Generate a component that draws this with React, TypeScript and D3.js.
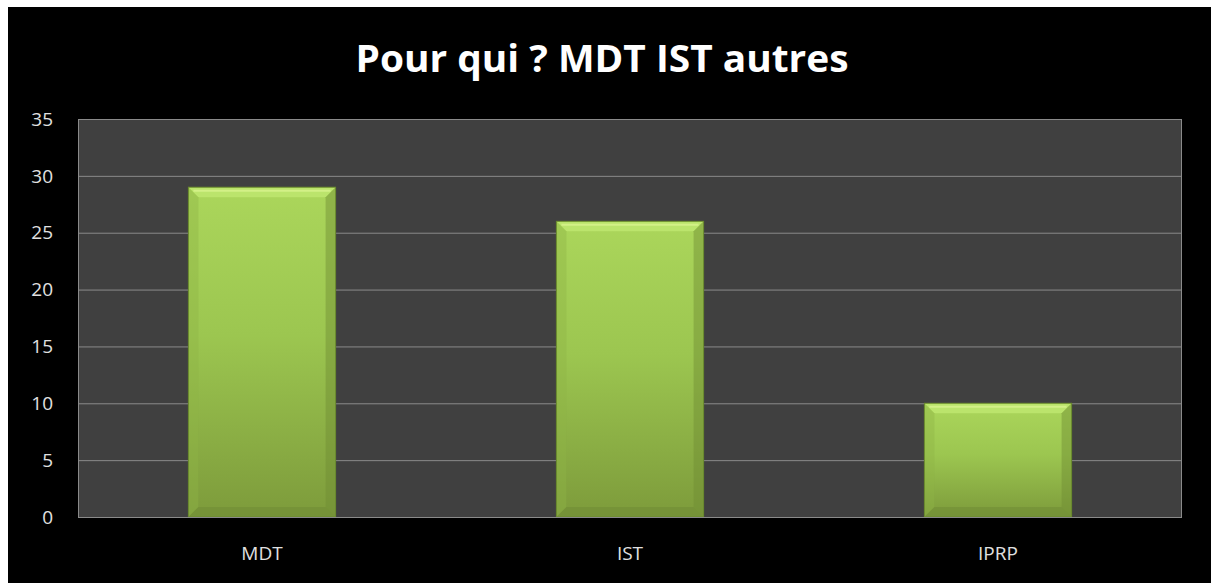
import React, { useEffect, useRef } from "react";
import * as d3 from "d3";

const categories = ["MDT", "IST", "IPRP"];
const values = [29, 26, 10];
const yTicks = [0, 5, 10, 15, 20, 25, 30, 35];
const title = "Pour qui ? MDT IST autres";

const W = 1203;
const H = 576;

const App = () => {
  const ref = useRef<SVGSVGElement>(null);

  useEffect(() => {
    const svg = d3.select(ref.current);
    svg.selectAll("*").remove();

    const margin = { top: 112, right: 29, bottom: 66, left: 70 },
      width = W - margin.left - margin.right,
      height = H - margin.top - margin.bottom;

    const defs = svg.append("defs");
    const grad = defs
      .append("linearGradient")
      .attr("id", "barGrad")
      .attr("x1", 0)
      .attr("y1", 0)
      .attr("x2", 0)
      .attr("y2", 1);
    grad.append("stop").attr("offset", "0%").attr("stop-color", "#abd65b");
    grad.append("stop").attr("offset", "45%").attr("stop-color", "#9cc650");
    grad.append("stop").attr("offset", "100%").attr("stop-color", "#7d9b3b");

    svg.append("rect").attr("width", W + 20).attr("height", H).attr("fill", "#000");

    svg
      .append("text")
      .attr("x", 594)
      .attr("y", 65)
      .attr("text-anchor", "middle")
      .attr("fill", "#fff")
      .attr("font-family", "Open Sans, sans-serif")
      .attr("font-weight", "bold")
      .attr("font-size", 37)
      .attr("textLength", 493)
      .attr("lengthAdjust", "spacingAndGlyphs")
      .text(title);

    const x = d3
      .scaleBand()
      .domain(categories)
      .range([0, width])
      .paddingInner(0.6)
      .paddingOuter(0.3);

    const y = d3.scaleLinear().domain([0, 35]).range([height, 0]);

    const chart = svg
      .append("g")
      .attr("transform", `translate(${margin.left},${margin.top})`);

    chart
      .append("rect")
      .attr("width", width)
      .attr("height", height)
      .attr("fill", "#404040");

    chart
      .append("g")
      .selectAll("line")
      .data(yTicks.filter((t) => t > 0))
      .join("line")
      .attr("x1", 0)
      .attr("x2", width)
      .attr("y1", (d) => y(d) + 0.5)
      .attr("y2", (d) => y(d) + 0.5)
      .attr("stroke", "#8a8a8a")
      .attr("stroke-width", 1);

    // bars with a bevelled edge
    const bev = 10;
    const bars = chart
      .append("g")
      .selectAll("g")
      .data(categories.map((c, i) => ({ c, v: values[i] })))
      .join("g")
      .attr("transform", (d) => `translate(${x(d.c)},${y(d.v)})`);

    const bw = x.bandwidth();
    bars
      .append("rect")
      .attr("width", bw)
      .attr("height", (d) => height - y(d.v))
      .attr("fill", "url(#barGrad)");

    bars
      .append("path")
      .attr("d", `M0,0 L${bw},0 L${bw - bev},${bev} L${bev},${bev} Z`)
      .attr("fill", "#bce56e")
      .attr("opacity", 0.9);
    bars
      .append("line")
      .attr("x1", bev / 2)
      .attr("x2", bw - bev / 2)
      .attr("y1", 3.5)
      .attr("y2", 3.5)
      .attr("stroke", "#d9f48e")
      .attr("stroke-width", 2)
      .attr("opacity", 0.8);
    bars
      .append("path")
      .attr("d", (d) => {
        const h = height - y(d.v);
        return `M0,0 L${bev},${bev} L${bev},${h - bev} L0,${h} Z`;
      })
      .attr("fill", "#8fb445")
      .attr("opacity", 0.4);
    bars
      .append("path")
      .attr("d", (d) => {
        const h = height - y(d.v);
        return `M${bw},0 L${bw - bev},${bev} L${bw - bev},${h - bev} L${bw},${h} Z`;
      })
      .attr("fill", "#6f8c33")
      .attr("opacity", 0.45);
    bars
      .append("path")
      .attr("d", (d) => {
        const h = height - y(d.v);
        return `M0,${h} L${bev},${h - bev} L${bw - bev},${h - bev} L${bw},${h} Z`;
      })
      .attr("fill", "#6e8a33")
      .attr("opacity", 0.5);
    bars
      .append("rect")
      .attr("width", bw)
      .attr("height", (d) => height - y(d.v))
      .attr("fill", "none")
      .attr("stroke", "#6a8a2e")
      .attr("stroke-width", 1);

    chart
      .append("rect")
      .attr("x", 0.5)
      .attr("y", 0.5)
      .attr("width", width - 1)
      .attr("height", height)
      .attr("fill", "none")
      .attr("stroke", "#8a8a8a");

    chart
      .append("g")
      .selectAll("text")
      .data(yTicks)
      .join("text")
      .attr("x", -25)
      .attr("y", (d) => y(d))
      .attr("dy", "0.35em")
      .attr("text-anchor", "end")
      .attr("fill", "#e0e0e0")
      .attr("font-family", "Open Sans, sans-serif")
      .attr("font-size", 19)
      .text((d) => d);

    chart
      .append("g")
      .selectAll("text")
      .data(categories)
      .join("text")
      .attr("x", (d) => x(d)! + bw / 2)
      .attr("y", height + 43)
      .attr("text-anchor", "middle")
      .attr("fill", "#e0e0e0")
      .attr("font-family", "Open Sans, sans-serif")
      .attr("font-size", 19)
      .text((d) => d);
  }, []);

  return (
    <div style={{ position: "fixed", left: 8, top: 7, right: 0, bottom: 0, overflow: "hidden", background: "#000" }}>
      <svg ref={ref} width={W + 20} height={H} style={{ display: "block" }} />
    </div>
  );
};

export default App;
